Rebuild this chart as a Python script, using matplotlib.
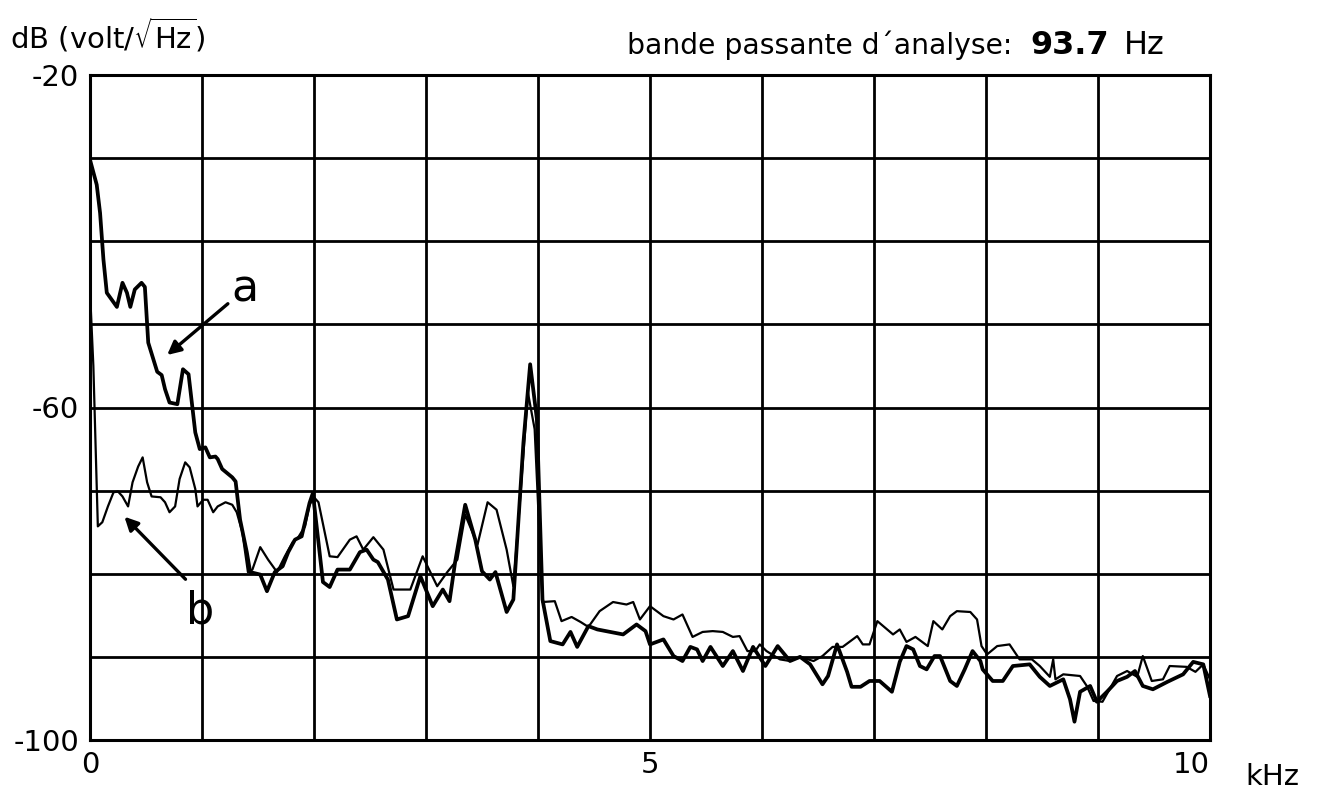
import matplotlib
matplotlib.use("Agg")
import matplotlib.pyplot as plt

# ---- data (frequency in kHz, level in dB) ----
freq_a = [0.0, 0.06, 0.09, 0.12, 0.15, 0.24, 0.29, 0.33, 0.36, 0.40, 0.46, 0.49, 0.52, 0.60,
          0.64, 0.67, 0.71, 0.78, 0.83, 0.88, 0.94, 0.98, 1.03, 1.07, 1.12, 1.14, 1.18, 1.27,
          1.30, 1.34, 1.40, 1.43, 1.52, 1.58, 1.65, 1.72, 1.77, 1.83, 1.89, 1.96, 1.99,
          2.08, 2.14, 2.21, 2.32, 2.41, 2.47, 2.53, 2.57, 2.66, 2.74, 2.84, 2.95, 3.06, 3.15,
          3.21, 3.26, 3.35, 3.44, 3.50, 3.57, 3.62, 3.72, 3.78, 3.87, 3.93, 3.99, 4.04, 4.11,
          4.22, 4.29, 4.35, 4.45, 4.53, 4.76, 4.88, 4.96, 5.00, 5.12, 5.21, 5.29, 5.36, 5.42,
          5.47, 5.54, 5.65, 5.74, 5.83, 5.92, 6.03, 6.14, 6.25, 6.34, 6.43, 6.54, 6.59, 6.67,
          6.76, 6.80, 6.88, 6.96, 7.05, 7.16, 7.23, 7.29, 7.35, 7.41, 7.47, 7.54, 7.59, 7.68,
          7.74, 7.81, 7.88, 7.95, 7.97, 8.06, 8.15, 8.24, 8.39, 8.48, 8.57, 8.69, 8.75, 8.79,
          8.84, 8.93, 8.99, 9.08, 9.17, 9.26, 9.33, 9.40, 9.49, 9.62, 9.76, 9.85, 9.94, 10.0]
db_a = [-30.2, -33.2, -36.6, -42.2, -46.2, -47.9, -45.0, -46.2, -47.9, -45.8, -45.0, -45.5, -52.2, -55.7,
        -56.1, -57.8, -59.4, -59.6, -55.4, -56.0, -63.0, -65.0, -64.8, -66.0, -65.9, -66.2, -67.4, -68.4,
        -68.9, -73.5, -77.4, -79.8, -80.1, -82.1, -79.8, -79.1, -77.4, -75.9, -75.5, -71.5, -70.3,
        -81.0, -81.6, -79.5, -79.5, -77.4, -77.1, -78.3, -78.6, -80.7, -85.5, -85.1, -80.3, -83.9, -81.9,
        -83.3, -78.6, -71.7, -75.9, -79.7, -80.7, -79.8, -84.6, -83.1, -64.2, -54.8, -61.4, -83.1, -88.1,
        -88.5, -87.0, -88.8, -86.3, -86.7, -87.3, -86.1, -86.9, -88.5, -87.9, -89.9, -90.5, -88.8, -89.1,
        -90.5, -88.8, -91.1, -89.3, -91.7, -88.8, -91.1, -88.7, -90.5, -90.0, -90.9, -93.3, -92.3, -88.5,
        -91.8, -93.6, -93.6, -92.9, -92.9, -94.2, -90.6, -88.7, -89.1, -91.1, -91.5, -89.9, -89.9, -92.9,
        -93.5, -91.5, -89.3, -90.5, -91.5, -92.9, -92.9, -91.1, -90.9, -92.4, -93.5, -92.7, -95.1, -97.8,
        -94.2, -93.5, -95.4, -94.2, -92.9, -92.4, -91.7, -93.5, -93.9, -93.0, -92.1, -90.6, -90.9, -94.7]

freq_b = [0.0, 0.03, 0.07, 0.11, 0.16, 0.21, 0.25, 0.29, 0.34, 0.38, 0.43, 0.47, 0.51, 0.55, 0.63,
          0.67, 0.71, 0.76, 0.80, 0.85, 0.89, 0.94, 0.96, 1.01, 1.05, 1.10, 1.14, 1.21, 1.27, 1.31,
          1.36, 1.41, 1.45, 1.52, 1.59, 1.67, 1.74, 1.81, 1.86, 1.92, 1.96, 2.00, 2.04, 2.14, 2.21,
          2.32, 2.38, 2.44, 2.53, 2.62, 2.71, 2.77, 2.86, 2.97, 3.10, 3.19, 3.28, 3.35, 3.46, 3.55,
          3.63, 3.72, 3.78, 3.84, 3.91, 3.97, 4.04, 4.15, 4.21, 4.30, 4.38, 4.45, 4.55, 4.67, 4.79,
          4.85, 4.91, 5.00, 5.12, 5.21, 5.29, 5.38, 5.47, 5.56, 5.65, 5.74, 5.80, 5.87, 5.94, 5.98,
          6.04, 6.16, 6.25, 6.34, 6.46, 6.54, 6.63, 6.72, 6.85, 6.90, 6.96, 7.03, 7.17, 7.23, 7.29,
          7.37, 7.48, 7.53, 7.61, 7.68, 7.74, 7.86, 7.92, 7.96, 8.01, 8.10, 8.21, 8.30, 8.41, 8.48,
          8.57, 8.60, 8.62, 8.69, 8.84, 8.90, 8.96, 9.04, 9.17, 9.26, 9.35, 9.40, 9.48, 9.58, 9.64,
          9.79, 9.87, 9.94, 10.0]
db_b = [-46.0, -55.0, -74.3, -73.8, -71.9, -70.2, -70.1, -70.7, -71.9, -69.0, -67.1, -66.0, -69.0, -70.7, -70.8,
        -71.4, -72.6, -71.9, -68.6, -66.6, -67.2, -69.8, -71.9, -71.1, -71.1, -72.6, -71.9, -71.4, -71.7, -72.6,
        -75.0, -79.8, -79.5, -76.8, -78.3, -79.8, -77.9, -76.2, -75.6, -74.3, -71.7, -70.8, -71.4, -77.9, -78.0,
        -75.9, -75.5, -77.1, -75.6, -77.1, -81.9, -81.9, -81.9, -77.9, -81.5, -79.8, -78.3, -72.9, -76.5, -71.4,
        -72.3, -77.1, -81.5, -71.1, -58.2, -62.6, -83.4, -83.3, -85.7, -85.2, -85.8, -86.4, -84.5, -83.4, -83.7,
        -83.4, -85.5, -83.9, -85.1, -85.5, -84.9, -87.6, -87.0, -86.9, -87.0, -87.6, -87.5, -89.3, -89.3, -88.5,
        -89.3, -90.3, -90.5, -90.0, -90.5, -89.9, -88.8, -88.8, -87.5, -88.5, -88.5, -85.7, -87.3, -86.7, -88.2,
        -87.6, -88.7, -85.7, -86.7, -85.1, -84.5, -84.6, -85.5, -88.7, -89.7, -88.7, -88.5, -90.3, -90.3, -91.1,
        -92.4, -90.3, -92.7, -92.1, -92.3, -93.5, -95.3, -95.4, -92.3, -91.7, -92.4, -89.9, -92.9, -92.7, -91.1,
        -91.2, -91.8, -90.9, -92.7]

x_ticks = [0, 5, 10]
x_tick_labels = ["0", "5", "10"]
y_ticks = [-100, -60, -20]
y_tick_labels = ["-100", "-60", "-20"]

plt.rcParams["font.family"] = ["DejaVu Sans"]

# ---- figure ----
W, H = 1321, 797
fig = plt.figure(figsize=(W / 100, H / 100), dpi=100)
ax = fig.add_axes([90 / W, 1 - 740 / H, (1210 - 90) / W, (740 - 75) / H])

ax.set_xlim(0, 10)
ax.set_ylim(-100, -20)

# grid
for xv in range(1, 10):
    ax.axvline(xv, color="black", lw=2.0, zorder=1)
for yv in range(-90, -20, 10):
    ax.axhline(yv, color="black", lw=2.0, zorder=1)
for s in ax.spines.values():
    s.set_linewidth(2.2)
    s.set_color("black")

ax.plot(freq_b, db_b, color="black", lw=1.6, zorder=3, solid_joinstyle="round")
ax.plot(freq_a, db_a, color="black", lw=2.7, zorder=4, solid_joinstyle="round")

ax.set_xticks(x_ticks)
ax.set_xticklabels(x_tick_labels, fontsize=21)
ax.set_yticks(y_ticks)
ax.set_yticklabels(y_tick_labels, fontsize=21)
ax.tick_params(length=0, pad=8)
ax.get_xticklabels()[-1].set_horizontalalignment("right")

renderer = fig.canvas.get_renderer()


def fitted_text(x0, x1, y, s, fs, **kw):
    """Place text starting at pixel x0 and shrink it so it ends near pixel x1."""
    t = fig.text(x0 / W, 1 - y / H, s, fontsize=fs, ha="left", va="center", **kw)
    w = t.get_window_extent(renderer).width
    target = x1 - x0
    if w > target:
        t.set_fontsize(fs * target / w)
    return t


fig.text(1272 / W, 1 - 777 / H, "kHz", fontsize=21, ha="center", va="center")
fitted_text(10, 222, 35, r"dB (volt/$\sqrt{\mathrm{Hz}}$)", 21)
fitted_text(627, 1012, 45, "bande passante d\u00b4analyse:", 23)
fitted_text(1030, 1110, 45, "93.7", 23, fontweight="bold")
fitted_text(1124, 1192, 45, "Hz", 23)

# annotations
ax.annotate("", xy=(0.67, -53.9), xytext=(1.25, -47.3),
            arrowprops=dict(arrowstyle="-|>,head_length=0.8,head_width=0.4", color="black", lw=2.4))
ax.text(1.38, -45.8, "a", fontsize=32, ha="center", va="center")
ax.annotate("", xy=(0.29, -72.9), xytext=(0.87, -80.9),
            arrowprops=dict(arrowstyle="-|>,head_length=0.8,head_width=0.4", color="black", lw=2.4))
ax.text(0.98, -84.5, "b", fontsize=32, ha="center", va="center")

fig.savefig("out.png", dpi=100)
